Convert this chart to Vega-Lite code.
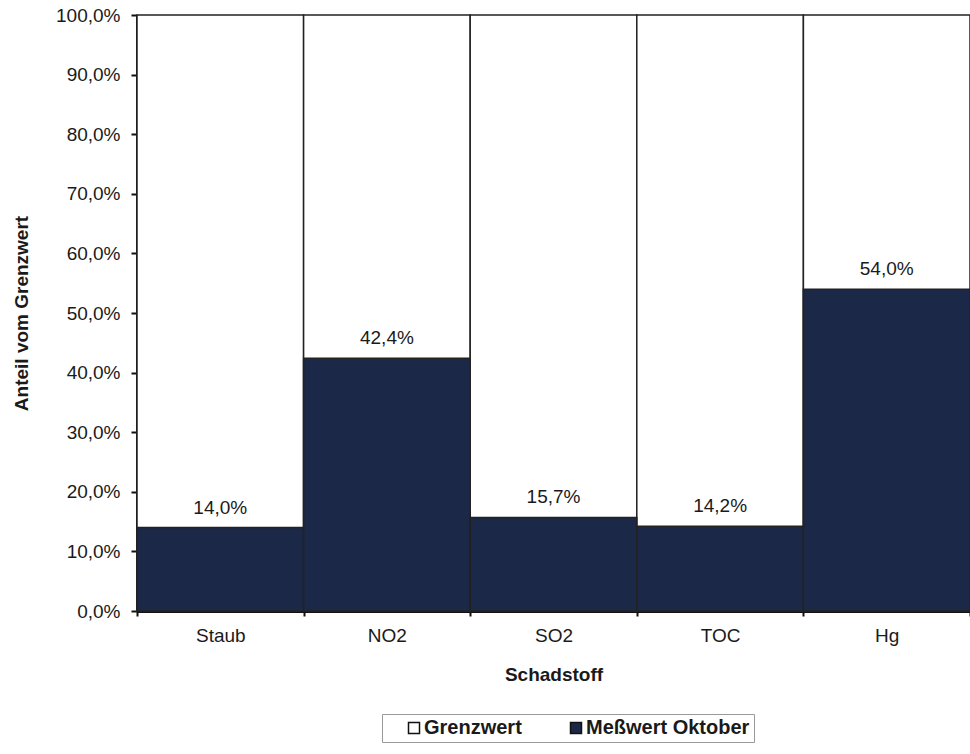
{
  "$schema": "https://vega.github.io/schema/vega-lite/v6.json",
  "width": 833,
  "height": 596,
  "autosize": {"type": "none"},
  "padding": {"left": 137, "top": 15, "right": 0, "bottom": 143},
  "background": "white",
  "config": {
    "locale": {"number": {"decimal": ",", "thousands": ".", "grouping": [3], "currency": ["", " €"]}},
    "view": {"stroke": null},
    "font": "Liberation Sans"
  },
  "data": {
    "values": [
      {"Schadstoff": "Staub", "Serie": "Grenzwert", "Wert": 1.0},
      {"Schadstoff": "NO2", "Serie": "Grenzwert", "Wert": 1.0},
      {"Schadstoff": "SO2", "Serie": "Grenzwert", "Wert": 1.0},
      {"Schadstoff": "TOC", "Serie": "Grenzwert", "Wert": 1.0},
      {"Schadstoff": "Hg", "Serie": "Grenzwert", "Wert": 1.0},
      {"Schadstoff": "Staub", "Serie": "Meßwert Oktober", "Wert": 0.140},
      {"Schadstoff": "NO2", "Serie": "Meßwert Oktober", "Wert": 0.424},
      {"Schadstoff": "SO2", "Serie": "Meßwert Oktober", "Wert": 0.157},
      {"Schadstoff": "TOC", "Serie": "Meßwert Oktober", "Wert": 0.142},
      {"Schadstoff": "Hg", "Serie": "Meßwert Oktober", "Wert": 0.540}
    ]
  },
  "encoding": {
    "x": {
      "field": "Schadstoff",
      "type": "nominal",
      "sort": ["Staub", "NO2", "SO2", "TOC", "Hg"],
      "scale": {"paddingInner": 0, "paddingOuter": 0},
      "axis": {
        "title": "Schadstoff",
        "titleFontSize": 19,
        "titleFontWeight": "bold",
        "titleColor": "#1a1a1a",
        "titlePadding": 20,
        "labelAngle": 0,
        "labelFontSize": 19,
        "labelColor": "#1a1a1a",
        "labelPadding": 10,
        "domainColor": "#111",
        "domainWidth": 3,
        "tickBand": "extent",
        "tickColor": "#111",
        "tickSize": 5,
        "tickWidth": 2
      }
    },
    "y": {
      "field": "Wert",
      "type": "quantitative",
      "stack": null,
      "scale": {"domain": [0, 1], "nice": false},
      "axis": {
        "title": "Anteil vom Grenzwert",
        "titleFontSize": 19,
        "titleFontWeight": "bold",
        "titleColor": "#1a1a1a",
        "titlePadding": 24,
        "format": ".1%",
        "values": [0, 0.1, 0.2, 0.3, 0.4, 0.5, 0.6, 0.7, 0.8, 0.9, 1.0],
        "labelFontSize": 19,
        "labelColor": "#1a1a1a",
        "labelPadding": 11,
        "grid": false,
        "domainColor": "#111",
        "domainWidth": 3,
        "tickColor": "#111",
        "tickSize": 6,
        "tickWidth": 2
      }
    }
  },
  "layer": [
    {
      "mark": {"type": "bar", "stroke": "#222", "strokeWidth": 1.5},
      "encoding": {
        "color": {
          "field": "Serie",
          "type": "nominal",
          "scale": {"domain": ["Grenzwert", "Meßwert Oktober"], "range": ["#ffffff", "#1b2847"]},
          "legend": {
            "title": null,
            "orient": "none",
            "direction": "horizontal",
            "legendX": 245,
            "legendY": 699,
            "strokeColor": "#999",
            "padding": 4,
            "symbolOffset": 18,
            "symbolType": "square",
            "symbolSize": 121,
            "symbolStrokeColor": "#111",
            "symbolStrokeWidth": 1.5,
            "labelFontSize": 20,
            "labelFontWeight": "bold",
            "labelColor": "#1a1a1a",
            "labelOffset": 0,
            "labelLimit": 400,
            "columnPadding": 26
          }
        },
        "order": {"field": "Serie", "sort": "ascending"}
      }
    },
    {
      "transform": [{"filter": "datum.Serie === 'Meßwert Oktober'"}],
      "mark": {"type": "text", "baseline": "alphabetic", "dy": -14, "fontSize": 19, "color": "#1a1a1a"},
      "encoding": {
        "text": {"field": "Wert", "type": "quantitative", "format": ".1%"}
      }
    }
  ]
}
